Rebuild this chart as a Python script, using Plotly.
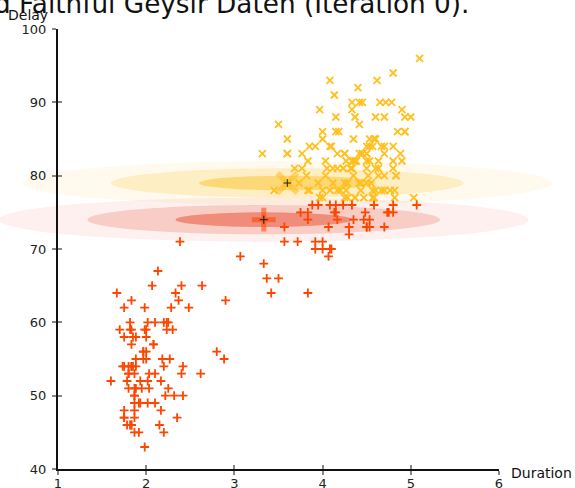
import plotly.graph_objects as go

# ---------------- data: Old Faithful geyser (eruption duration [min], delay [min]) ----------------
duration = [3.600, 1.800, 3.333, 2.283, 4.533, 2.883, 4.700, 3.600, 1.950, 4.350,
            1.833, 3.917, 4.200, 1.750, 4.700, 2.167, 1.750, 4.800, 1.600, 4.250,
            1.800, 1.750, 3.450, 3.067, 4.533, 3.600, 1.967, 4.083, 3.850, 4.433,
            4.300, 4.467, 3.367, 4.033, 3.833, 2.017, 1.867, 4.833, 1.833, 4.783,
            4.350, 1.883, 4.567, 1.750, 4.533, 3.317, 3.833, 2.100, 4.633, 2.000,
            4.800, 4.716, 1.833, 4.833, 1.733, 4.883, 3.717, 1.667, 4.567, 4.317,
            2.233, 4.500, 1.750, 4.800, 1.817, 4.400, 4.167, 4.700, 2.067, 4.700,
            4.033, 1.967, 4.500, 4.000, 1.983, 5.067, 2.017, 4.567, 3.883, 3.600,
            4.133, 4.333, 4.100, 2.633, 4.067, 4.933, 3.950, 4.517, 2.167, 4.000,
            2.200, 4.333, 1.867, 4.817, 1.833, 4.300, 4.667, 3.750, 1.867, 4.900,
            2.483, 4.367, 2.100, 4.500, 4.050, 1.867, 4.700, 1.783, 4.850, 3.683,
            4.733, 2.300, 4.900, 4.417, 1.700, 4.633, 2.317, 4.600, 1.817, 4.417,
            2.617, 4.067, 4.250, 1.967, 4.600, 3.767, 1.917, 4.500, 2.267, 4.650,
            1.867, 4.167, 2.800, 4.333, 1.833, 4.383, 1.883, 4.933, 2.033, 3.733,
            4.233, 2.233, 4.533, 4.817, 4.333, 1.983, 4.633, 2.017, 5.100, 1.800,
            5.033, 4.000, 2.400, 4.600, 3.567, 4.000, 4.500, 4.083, 1.800, 3.967,
            2.200, 4.150, 2.000, 3.833, 3.500, 4.583, 2.367, 5.000, 1.933, 4.617,
            1.917, 2.083, 4.583, 3.333, 4.167, 4.333, 4.500, 2.417, 4.000, 4.167,
            1.883, 4.583, 4.250, 3.767, 2.033, 4.433, 4.083, 1.833, 4.417, 2.183,
            4.800, 1.833, 4.800, 4.100, 3.966, 4.233, 3.500, 4.366, 2.250, 4.667,
            2.100, 4.350, 4.133, 1.867, 4.600, 1.783, 4.367, 3.850, 1.933, 4.500,
            2.383, 4.700, 1.867, 3.833, 3.417, 4.233, 2.400, 4.800, 2.000, 4.150,
            1.867, 4.267, 1.750, 4.483, 4.000, 4.117, 4.083, 4.267, 3.917, 4.550,
            4.083, 2.417, 4.183, 2.217, 4.450, 1.883, 1.850, 4.283, 3.950, 2.333,
            4.150, 2.350, 4.933, 2.900, 4.583, 3.833, 2.083, 4.367, 2.133, 4.350,
            2.200, 4.450, 3.567, 4.500, 4.150, 3.817, 3.917, 4.450, 2.000, 4.283,
            4.767, 4.533, 1.850, 4.250, 1.983, 2.250, 4.750, 4.117, 2.150, 4.417,
            1.817, 4.467]

delay = [79, 54, 74, 62, 85, 55, 88, 85, 51, 85,
         54, 84, 78, 47, 83, 52, 62, 84, 52, 79,
         51, 47, 78, 69, 74, 83, 55, 76, 78, 79,
         73, 77, 66, 80, 74, 52, 48, 80, 59, 90,
         80, 58, 84, 58, 73, 83, 64, 53, 82, 59,
         75, 90, 54, 80, 54, 83, 71, 64, 77, 81,
         59, 84, 48, 82, 60, 92, 78, 78, 65, 73,
         82, 56, 79, 71, 62, 76, 60, 78, 76, 83,
         75, 82, 70, 65, 73, 88, 76, 80, 48, 86,
         60, 90, 50, 78, 63, 72, 84, 75, 51, 82,
         62, 88, 49, 83, 81, 47, 84, 52, 86, 81,
         75, 59, 89, 79, 59, 81, 50, 85, 59, 87,
         53, 69, 77, 56, 88, 81, 45, 82, 55, 90,
         45, 83, 56, 89, 46, 82, 51, 86, 53, 79,
         81, 60, 82, 77, 76, 59, 80, 49, 96, 53,
         77, 77, 65, 81, 71, 70, 81, 93, 53, 89,
         45, 86, 58, 78, 66, 76, 63, 88, 52, 93,
         49, 57, 77, 68, 81, 81, 73, 50, 85, 74,
         55, 77, 83, 83, 51, 78, 84, 46, 83, 55,
         81, 57, 76, 84, 77, 81, 87, 77, 51, 78,
         60, 82, 91, 53, 78, 46, 77, 84, 49, 83,
         71, 80, 49, 75, 64, 76, 53, 94, 55, 76,
         50, 82, 54, 75, 78, 79, 78, 78, 70, 79,
         70, 54, 86, 50, 90, 54, 54, 77, 79, 64,
         75, 47, 86, 63, 85, 82, 57, 82, 67, 74,
         54, 83, 73, 73, 88, 80, 71, 83, 56, 79,
         78, 84, 58, 83, 43, 60, 75, 81, 46, 90,
         46, 74]

# EM state at iteration 0: initial means and standard deviations of the two components
mean_duration = [3.333, 3.600]   # component 1 (red), component 2 (yellow)
mean_delay = [74.0, 79.0]
sd_duration = [1.0, 1.0]
sd_delay = [1.0, 1.0]
sigma_levels = [3, 2, 1]

x_ticks = [1, 2, 3, 4, 5, 6]
y_ticks = [40, 50, 60, 70, 80, 90, 100]
title_text = "Old Faithful Geysir Daten (Iteration 0)."
x_label = "Duration"
y_label = "Delay"

# ---------------- styling ----------------
FONT = "DejaVu Sans"
RED = "rgb(255,69,0)"
YEL = "rgb(255,192,32)"
red_fill_rgb = (232, 64, 34)
yel_fill_rgb = (252, 190, 30)
level_alpha = {3: 0.08, 2: 0.20, 1: 0.46}

W, H = 575, 488
PL, PR, PT, PB = 58, 499, 29, 469      # pixel box of the drawn axes
X0, X1, Y0, Y1 = 1, 6, 40, 100

sx = (PR - PL) / (X1 - X0)
sy = (PB - PT) / (Y1 - Y0)
x_full = [X0 - PL / sx, X1 + (W - PR) / sx]
y_full = [Y0 - (H - PB) / sy, Y1 + PT / sy]

# ---------------- E-step assignment (nearest component) ----------------
assign = []
for d, w in zip(duration, delay):
    dists = [((d - mean_duration[k]) / sd_duration[k]) ** 2 + ((w - mean_delay[k]) / sd_delay[k]) ** 2
             for k in range(2)]
    assign.append(0 if dists[0] <= dists[1] else 1)

red_x = [d for d, a in zip(duration, assign) if a == 0]
red_y = [w for w, a in zip(delay, assign) if a == 0]
yel_x = [d for d, a in zip(duration, assign) if a == 1]
yel_y = [w for w, a in zip(delay, assign) if a == 1]

fig = go.Figure()

# ellipses (shapes in data coordinates)
shapes = []
for k, rgb in [(1, yel_fill_rgb), (0, red_fill_rgb)]:
    for lvl in sigma_levels:
        shapes.append(dict(
            type="circle", xref="x", yref="y", layer="below",
            x0=mean_duration[k] - lvl * sd_duration[k], x1=mean_duration[k] + lvl * sd_duration[k],
            y0=mean_delay[k] - lvl * sd_delay[k], y1=mean_delay[k] + lvl * sd_delay[k],
            fillcolor="rgba(%d,%d,%d,%.2f)" % (rgb + (level_alpha[lvl],)),
            line=dict(width=0)))

fig.add_trace(go.Scatter(x=yel_x, y=yel_y, mode="markers", hoverinfo="skip",
                         marker=dict(symbol="x-thin", size=7, line=dict(width=1.8, color=YEL))))
fig.add_trace(go.Scatter(x=red_x, y=red_y, mode="markers", hoverinfo="skip",
                         marker=dict(symbol="cross-thin", size=6.3, line=dict(width=1.8, color=RED))))

# component means
fig.add_trace(go.Scatter(x=[mean_duration[0]], y=[mean_delay[0]], mode="markers", hoverinfo="skip",
                         marker=dict(symbol="cross-thin", size=17, line=dict(width=5, color="rgba(255,69,0,0.55)"))))
fig.add_trace(go.Scatter(x=[mean_duration[1]], y=[mean_delay[1]], mode="markers", hoverinfo="skip",
                         marker=dict(symbol="x-thin", size=20, line=dict(width=5.5, color="rgba(255,192,32,0.6)"))))
fig.add_trace(go.Scatter(x=mean_duration, y=mean_delay, mode="markers", hoverinfo="skip",
                         marker=dict(symbol="cross-thin", size=5.5, line=dict(width=1, color="#222"))))

# dummy traces to create the visible axis subplots
fig.add_trace(go.Scatter(x=[], y=[], xaxis="x2", yaxis="y2", hoverinfo="skip"))
fig.add_trace(go.Scatter(x=[], y=[], xaxis="x3", yaxis="y3", hoverinfo="skip"))

dom_x = [PL / W, PR / W]
dom_y = [1 - PB / H, 1 - PT / H]
tickfont = dict(family=FONT, size=13, color="#222")

common_hidden = dict(visible=False, showgrid=False, zeroline=False, fixedrange=True, automargin=False)

fig.update_layout(
    template="none",
    width=W, height=H, autosize=False,
    margin=dict(l=0, r=0, t=0, b=0, pad=0, autoexpand=False),
    paper_bgcolor="white", plot_bgcolor="rgba(0,0,0,0)",
    showlegend=False,
    font=dict(family=FONT, color="#111"),
    shapes=shapes,
    xaxis=dict(domain=[0, 1], range=x_full, anchor="y", **common_hidden),
    yaxis=dict(domain=[0, 1], range=y_full, anchor="x", **common_hidden),
    xaxis2=dict(domain=dom_x, range=[X0, X1], anchor="y2", showgrid=False, zeroline=False,
                automargin=False, showline=True, linecolor="#111", linewidth=2,
                ticks="outside", ticklen=4, tickwidth=2, tickcolor="#888",
                ticklabelstandoff=-3,
                tickvals=x_ticks, ticktext=[str(v) for v in x_ticks], tickfont=tickfont),
    yaxis2=dict(domain=dom_y, range=[Y0, Y1], anchor="x2", showgrid=False, zeroline=False,
                automargin=False, showline=True, linecolor="#111", linewidth=2,
                ticks="outside", ticklen=4, tickwidth=2, tickcolor="#888",
                ticklabelstandoff=3,
                tickvals=y_ticks, ticktext=[str(v) for v in y_ticks], tickfont=tickfont),
    xaxis3=dict(domain=dom_x, range=[X0, X1], anchor="y3", overlaying="x2", showgrid=False,
                automargin=False, zeroline=False, showline=False, ticks="inside", ticklen=4,
                tickwidth=2, tickcolor="#888", tickvals=x_ticks, showticklabels=False),
    yaxis3=dict(domain=dom_y, range=[Y0, Y1], anchor="x3", overlaying="y2", showgrid=False,
                automargin=False, zeroline=False, showline=False, ticks="inside", ticklen=4,
                tickwidth=2, tickcolor="#888", tickvals=y_ticks, showticklabels=False),
    annotations=[
        dict(text=title_text, xref="paper", yref="paper", x=471 / W, y=1 - 21 / H,
             xanchor="right", yanchor="bottom", showarrow=False,
             font=dict(family=FONT, size=26.3, color="#111")),
        dict(text=y_label, xref="paper", yref="paper", x=28 / W, y=1 - 15 / H,
             xanchor="center", yanchor="middle", showarrow=False,
             font=dict(family=FONT, size=14, color="#111")),
        dict(text=x_label, xref="paper", yref="paper", x=509 / W, y=1 - 473 / H,
             xanchor="left", yanchor="middle", showarrow=False,
             font=dict(family=FONT, size=14, color="#111")),
    ],
)

fig.write_html("out.html",
               config={"displayModeBar": False, "staticPlot": True},
               post_script="document.body.style.margin='0';document.body.style.overflow='hidden';")
